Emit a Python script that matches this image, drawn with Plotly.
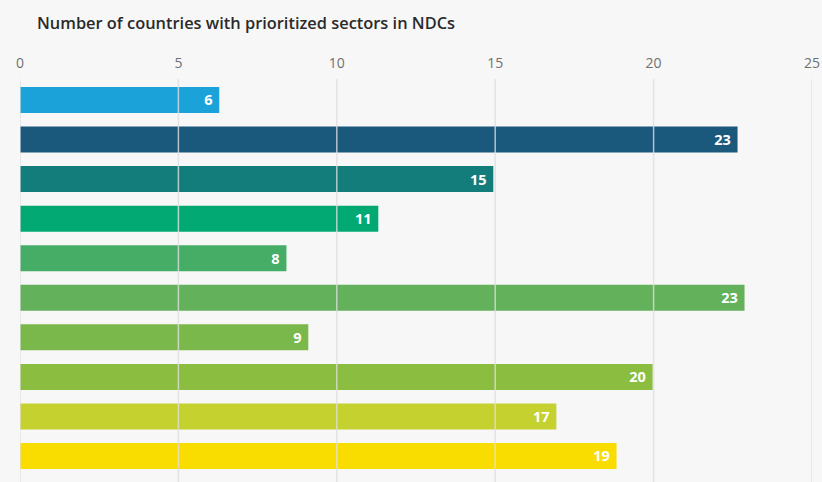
import plotly.graph_objects as go

categories = ["Sector A", "Sector B", "Sector C", "Sector D", "Sector E",
              "Sector F", "Sector G", "Sector H", "Sector I", "Sector J"]
values = [6.29, 22.65, 14.94, 11.31, 8.41, 22.87, 9.1, 19.97, 16.93, 18.83]
labels = ["6", "23", "15", "11", "8", "23", "9", "20", "17", "19"]
colors = ["#1ba2d9", "#1a587c", "#127d7b", "#02a973", "#45ad66",
          "#63b15b", "#7bb84c", "#8bbd40", "#c5d12e", "#fadd00"]
tick_vals = [0, 5, 10, 15, 20, 25]

fig = go.Figure(go.Bar(
    y=categories, x=values, orientation="h",
    marker=dict(color=colors, line=dict(width=0)),
    text=[l + " " for l in labels], textposition="inside", insidetextanchor="end", textangle=0,
    textfont=dict(family="Open Sans", size=16, color="white", weight="bold"),
    hoverinfo="skip",
))

for v in tick_vals:
    fig.add_shape(type="line", xref="x", yref="paper", x0=v, x1=v, y0=0, y1=1,
                  line=dict(color="rgba(222,222,222,0.8)", width=1.5), layer="above")

fig.update_layout(
    width=822, height=482,
    margin=dict(l=20, r=10, t=79, b=0),
    paper_bgcolor="#f7f7f7", plot_bgcolor="#f7f7f7",
    bargap=0.343,
    showlegend=False,
    title=dict(text="Number of countries with prioritized sectors in NDCs",
               x=37 / 822, xanchor="left", y=1 - 23 / 482, yanchor="middle",
               font=dict(family="Open Sans", size=16.4, color="#2a2a2a", weight=600)),
    xaxis=dict(range=[0, 25], side="top", tickvals=tick_vals, showgrid=False,
               zeroline=False, showline=False, ticks="",
               tickfont=dict(family="Open Sans", size=14, color="#707070"),
               ticklabelstandoff=7),
    yaxis=dict(range=[9.657, -0.53], showticklabels=False, showgrid=False,
               zeroline=False, ticks=""),
)

fig.write_html("out.html")
